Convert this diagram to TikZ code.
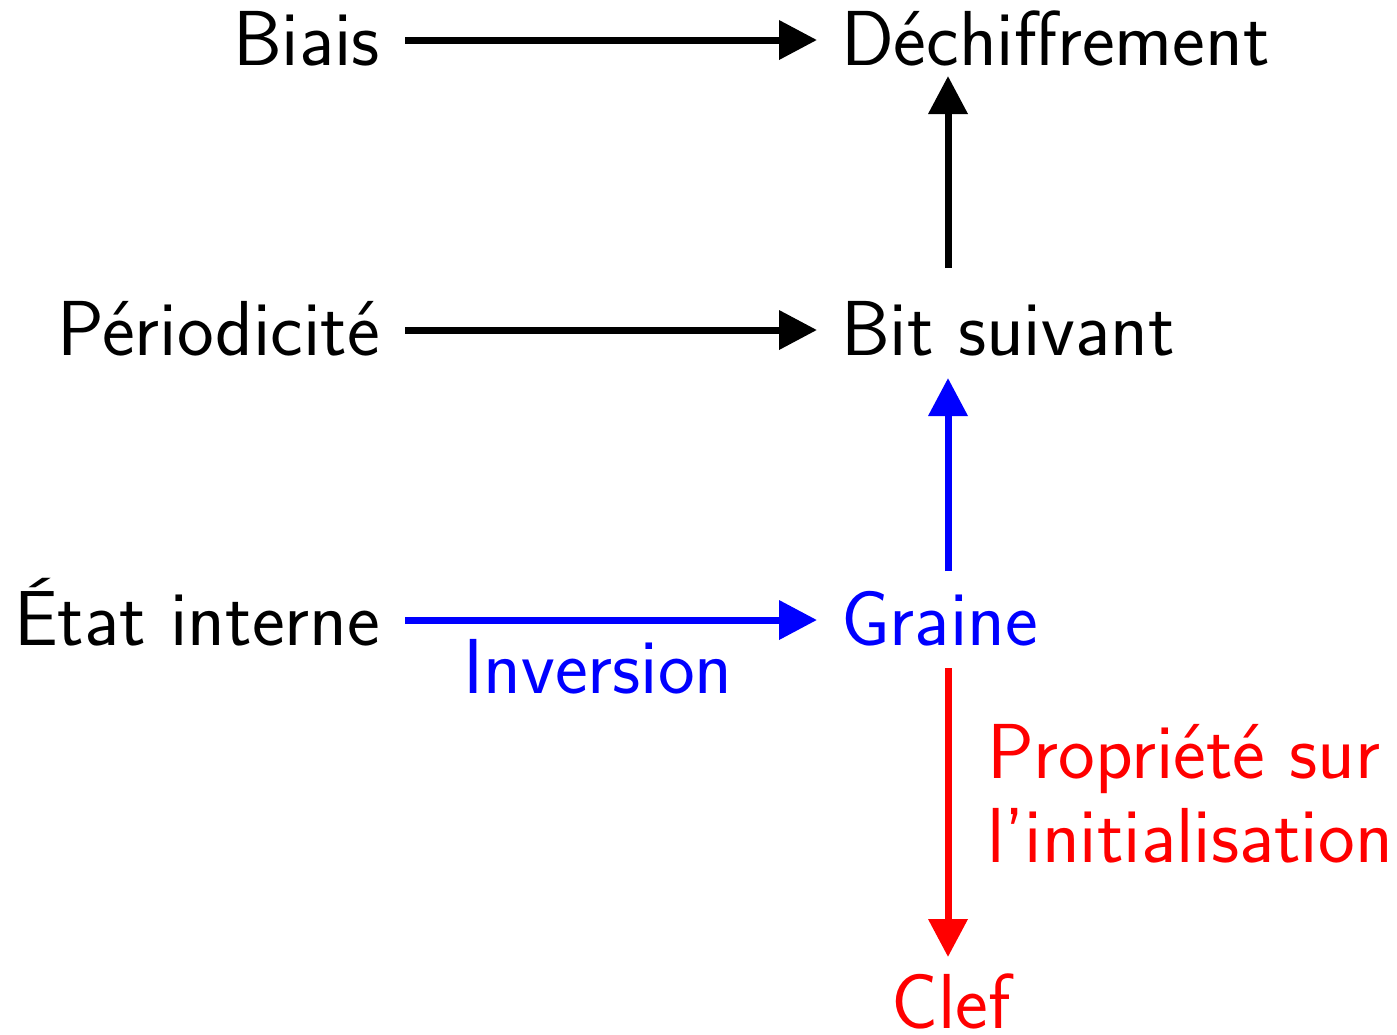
\documentclass[tikz,border=0pt]{standalone}
\usetikzlibrary{arrows.meta}
\begin{document}
\begin{tikzpicture}[x=0.5pt,y=-0.5pt,
  lbl/.style={inner sep=0pt, outer sep=0pt, font=\sffamily\fontsize{39}{42}\selectfont, text height=25pt, text depth=0pt},
  arr/.style={line width=3.5pt, -{Triangle[length=19pt,width=19pt]}}]
\useasboundingbox (0,0) rectangle (1397,1034);
\node[lbl, anchor=base east] (biais) at (380,65) {Biais};
\node[lbl, anchor=base west] (dech) at (841,65) {Déchiffrement};
\node[lbl, anchor=base east] (period) at (380,355) {Périodicité};
\node[lbl, anchor=base west] (bit) at (841,355) {Bit suivant};
\node[lbl, anchor=base east] (etat) at (380,645) {État interne};
\node[lbl, anchor=base west, text=blue] (graine) at (841,645) {Graine};
\node[lbl, anchor=base, text=red] (clef) at (951,1028) {Clef};
\node[lbl, anchor=base, text=blue] (inv) at (598,693) {Inversion};
\coordinate (vx) at (948,0);
\draw[arr, shorten <=12.5pt, shorten >=12pt] (biais.east) -- (dech.west |- biais.east);
\draw[arr, shorten <=12.5pt, shorten >=12pt] (period.east) -- (bit.west |- period.east);
\draw[arr, blue, shorten <=12.5pt, shorten >=12pt] (etat.east) -- (graine.west |- etat.east);
\draw[arr, shorten <=18.5pt, shorten >=5.5pt] (bit.north -| vx) -- (dech.south -| vx);
\draw[arr, blue, shorten <=12pt, shorten >=11.5pt] (graine.north -| vx) -- (bit.south -| vx);
\draw[arr, red, shorten <=11.5pt, shorten >=10.5pt] (graine.south -| vx) -- (clef.north -| vx);
\node[lbl, anchor=base west, align=left, text=red, text height=, text depth=] (prop) at (987,862) {Propriété sur\\l’initialisation};
\end{tikzpicture}
\end{document}
